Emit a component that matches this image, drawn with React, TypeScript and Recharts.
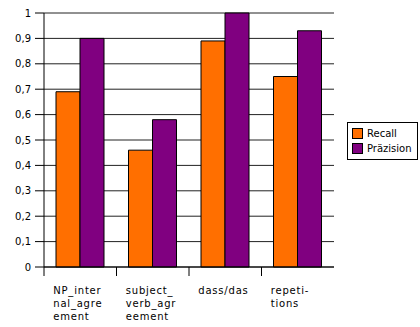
import { BarChart, Bar, XAxis, YAxis, CartesianGrid } from 'recharts';

const categories = ['NP_internal_agreement', 'subject_verb_agreement', 'dass/das', 'repetitions'];
// wrapped the way the original tool broke them
const tickLines = [
    ['NP_inter', 'nal_agre', 'ement'],
    ['subject_', 'verb_agr', 'eement'],
    ['dass/das'],
    ['repeti-', 'tions'],
];
const recall = [0.69, 0.46, 0.89, 0.75];
const praezision = [0.9, 0.58, 1.0, 0.93];
const yTicks = [0, 0.1, 0.2, 0.3, 0.4, 0.5, 0.6, 0.7, 0.8, 0.9, 1];

const ORANGE = '#ff6f00';
const PURPLE = '#800080';
const FONT = 'DejaVu Sans, Verdana, sans-serif';

const chartData = categories.map((c, i) => ({ name: c, Recall: recall[i], 'Präzision': praezision[i] }));

const CatTick = (props: any) => {
    const { x, y, payload } = props;
    const band = 290 / categories.length;
    const lines = tickLines[payload.index] || [payload.value];
    const left = x - band / 2;
    return (
        <g>
            <line x1={left} x2={left} y1={y - 8} y2={y + 1} stroke="#000" strokeWidth={1} />
            {lines.map((l, i) => (
                <text key={i} x={x - 27} y={y + 19 + i * 13} fontSize={10} letterSpacing={0.8} fontFamily={FONT} fill="#000" textAnchor="start">
                    {l}
                </text>
            ))}
        </g>
    );
};

export default function App() {
    return (
        <div style={{ position: 'absolute', left: 0, top: 0, width: 420, height: 327, background: '#fff' }}>
            <BarChart
                width={420}
                height={327}
                data={chartData}
                margin={{ top: 13, right: 86, bottom: 0, left: 0 }}
                barGap={0}
                barSize={24}
            >
                <CartesianGrid vertical={false} stroke="#222" strokeWidth={1} />
                <XAxis
                    dataKey="name"
                    axisLine={{ stroke: '#000' }}
                    tickLine={false}
                    height={60}
                    interval={0}
                    tick={<CatTick />}
                />
                <YAxis
                    domain={[0, 1]}
                    ticks={yTicks}
                    width={44}
                    axisLine={{ stroke: '#000' }}
                    tickLine={{ stroke: '#000' }}
                    tickSize={9}
                    tickMargin={4}
                    tick={{ fontSize: 10, fontFamily: FONT, fill: '#000' }}
                    tickFormatter={(v: number) => String(Math.round(v * 10) / 10).replace('.', ',')}
                />
                <Bar dataKey="Recall" fill={ORANGE} stroke="#000" strokeWidth={1} isAnimationActive={false} />
                <Bar dataKey="Präzision" fill={PURPLE} stroke="#000" strokeWidth={1} isAnimationActive={false} />
            </BarChart>
            <div style={{ position: 'absolute', left: 347, top: 122, border: '1px solid #000', background: '#fff', width: 71, padding: '3px 0 3px 4px', boxSizing: 'border-box', fontFamily: FONT, fontSize: 10 }}>
                {[['Recall', ORANGE], ['Präzision', PURPLE]].map(([label, color]) => (
                    <div key={label} style={{ display: 'flex', alignItems: 'center', height: 15 }}>
                        <span style={{ width: 9, height: 9, background: color, border: '1px solid #000', marginRight: 4 }} />
                        <span>{label}</span>
                    </div>
                ))}
            </div>
        </div>
    );
}
